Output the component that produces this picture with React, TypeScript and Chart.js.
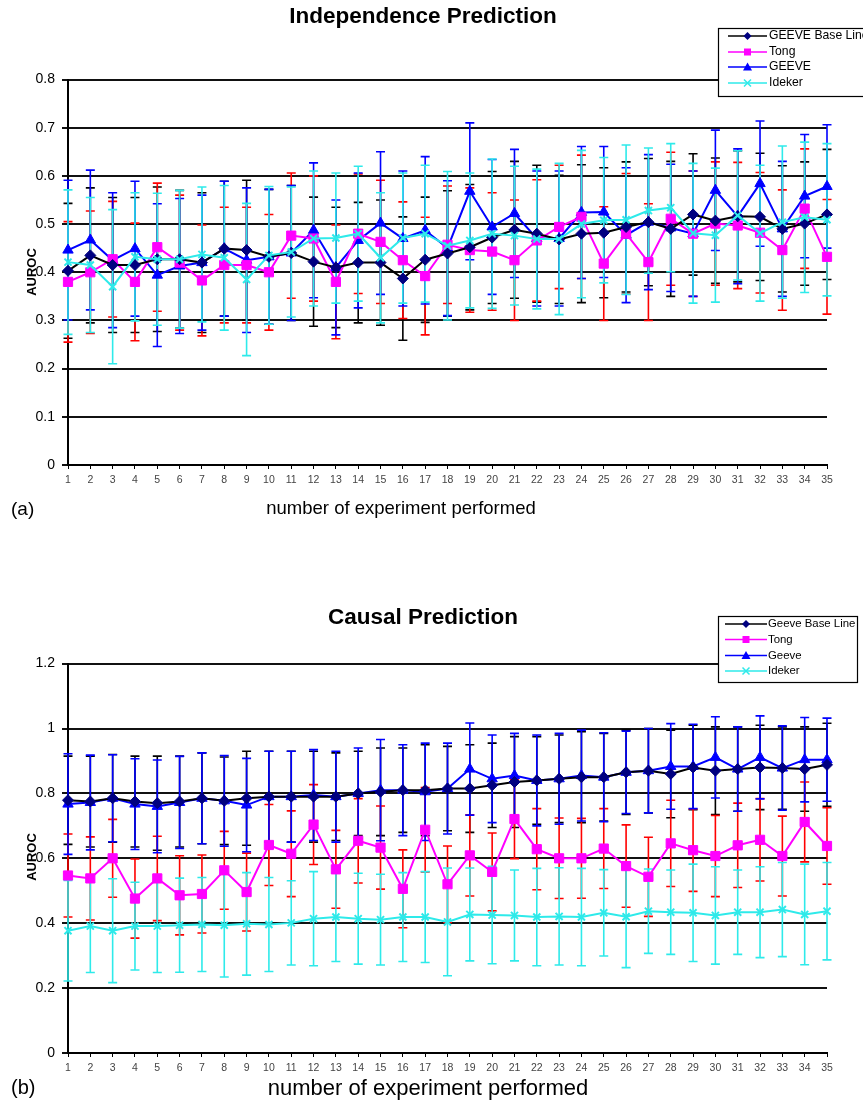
import React, { useEffect, useRef } from 'react';
import { Chart, registerables } from 'chart.js';
Chart.register(...registerables);

const categories = ['1','2','3','4','5','6','7','8','9','10','11','12','13','14','15','16','17','18','19','20','21','22','23','24','25','26','27','28','29','30','31','32','33','34','35'];

const indNames = ['GEEVE Base Line', 'Tong', 'GEEVE', 'Ideker'];
const causNames = ['Geeve Base Line', 'Tong', 'Geeve', 'Ideker'];

// Panel (a): Independence Prediction
const indBaseline = [0.403,0.435,0.415,0.415,0.427,0.427,0.42,0.449,0.446,0.432,0.44,0.422,0.41,0.42,0.42,0.387,0.426,0.439,0.452,0.472,0.488,0.48,0.468,0.48,0.482,0.494,0.504,0.49,0.52,0.507,0.516,0.515,0.49,0.501,0.52];
const indBaselineErr = [0.14,0.14,0.14,0.14,0.15,0.143,0.145,0.14,0.145,0.14,0.14,0.134,0.125,0.125,0.13,0.128,0.13,0.13,0.13,0.137,0.142,0.142,0.133,0.143,0.135,0.135,0.132,0.14,0.126,0.13,0.136,0.132,0.131,0.128,0.135];
const indTong = [0.38,0.40,0.427,0.38,0.452,0.42,0.383,0.415,0.415,0.40,0.476,0.47,0.38,0.48,0.463,0.425,0.392,0.457,0.446,0.443,0.425,0.466,0.494,0.515,0.418,0.48,0.421,0.511,0.48,0.501,0.497,0.482,0.446,0.532,0.432];
const indTongErr = [0.125,0.127,0.12,0.122,0.133,0.14,0.115,0.12,0.12,0.12,0.13,0.13,0.118,0.124,0.128,0.121,0.122,0.122,0.129,0.122,0.125,0.126,0.128,0.128,0.118,0.125,0.121,0.138,0.13,0.128,0.131,0.125,0.125,0.124,0.119];
const indGeeve = [0.446,0.467,0.425,0.449,0.394,0.413,0.42,0.449,0.425,0.432,0.44,0.487,0.41,0.466,0.502,0.47,0.487,0.45,0.568,0.494,0.522,0.47,0.47,0.524,0.525,0.477,0.504,0.492,0.48,0.57,0.516,0.584,0.49,0.558,0.578];
const indGeeveErr = [0.145,0.145,0.14,0.14,0.148,0.14,0.14,0.14,0.15,0.14,0.14,0.14,0.14,0.14,0.148,0.14,0.153,0.14,0.142,0.14,0.133,0.14,0.14,0.137,0.136,0.14,0.14,0.132,0.13,0.125,0.14,0.13,0.14,0.128,0.128];
const indIdeker = [0.421,0.415,0.37,0.432,0.427,0.427,0.437,0.43,0.385,0.435,0.442,0.47,0.471,0.48,0.43,0.471,0.48,0.455,0.466,0.48,0.476,0.469,0.469,0.5,0.508,0.509,0.528,0.534,0.481,0.477,0.518,0.481,0.504,0.514,0.509];
const indIdekerErr = [0.15,0.14,0.16,0.133,0.137,0.143,0.14,0.15,0.158,0.143,0.135,0.14,0.135,0.14,0.135,0.135,0.142,0.154,0.14,0.155,0.144,0.145,0.157,0.153,0.13,0.155,0.13,0.133,0.145,0.139,0.134,0.141,0.158,0.156,0.158];

// Panel (b): Causal Prediction
const causBaseline = [0.779,0.775,0.785,0.775,0.77,0.775,0.785,0.777,0.785,0.79,0.79,0.79,0.79,0.8,0.805,0.81,0.81,0.815,0.815,0.825,0.835,0.84,0.845,0.85,0.85,0.865,0.87,0.86,0.88,0.87,0.875,0.88,0.878,0.875,0.888];
const causBaselineErr = [0.136,0.14,0.135,0.14,0.145,0.14,0.14,0.135,0.145,0.14,0.14,0.14,0.135,0.13,0.135,0.13,0.14,0.13,0.135,0.13,0.14,0.135,0.135,0.14,0.135,0.13,0.13,0.135,0.13,0.135,0.13,0.13,0.127,0.13,0.128];
const causTong = [0.547,0.538,0.6,0.476,0.538,0.486,0.49,0.563,0.496,0.641,0.614,0.704,0.566,0.654,0.633,0.506,0.688,0.52,0.609,0.558,0.721,0.628,0.6,0.6,0.63,0.576,0.543,0.646,0.625,0.607,0.64,0.657,0.607,0.712,0.638];
const causTongErr = [0.128,0.128,0.12,0.122,0.13,0.122,0.12,0.12,0.12,0.125,0.132,0.123,0.12,0.13,0.128,0.12,0.13,0.118,0.125,0.12,0.122,0.125,0.124,0.123,0.123,0.127,0.122,0.133,0.127,0.125,0.13,0.127,0.123,0.123,0.118];
const causGeeve = [0.767,0.772,0.785,0.767,0.76,0.772,0.785,0.777,0.764,0.79,0.79,0.795,0.79,0.8,0.81,0.81,0.805,0.815,0.875,0.845,0.855,0.84,0.845,0.855,0.85,0.865,0.87,0.883,0.883,0.911,0.875,0.911,0.878,0.904,0.904];
const causGeeveErr = [0.155,0.146,0.134,0.14,0.143,0.142,0.14,0.14,0.144,0.14,0.14,0.14,0.14,0.14,0.156,0.14,0.15,0.14,0.142,0.135,0.13,0.14,0.14,0.14,0.137,0.127,0.13,0.132,0.13,0.125,0.13,0.128,0.13,0.13,0.128];
const causIdeker = [0.377,0.391,0.377,0.391,0.391,0.394,0.396,0.394,0.398,0.396,0.401,0.414,0.419,0.414,0.411,0.419,0.419,0.404,0.427,0.425,0.424,0.419,0.421,0.419,0.432,0.42,0.437,0.434,0.432,0.424,0.434,0.434,0.442,0.427,0.437];
const causIdekerErr = [0.155,0.143,0.16,0.135,0.143,0.145,0.145,0.16,0.158,0.145,0.13,0.145,0.137,0.14,0.14,0.137,0.14,0.166,0.143,0.15,0.14,0.15,0.15,0.15,0.133,0.157,0.13,0.13,0.15,0.15,0.13,0.14,0.145,0.155,0.15];

const FONT = "Arial, 'Liberation Sans', Helvetica, sans-serif";
const LINE_COLORS = ['#000000', '#FF00FF', '#0000FF', '#2EEAEA'];
const MARKER_COLORS = ['#000080', '#FF00FF', '#0000FF', '#2EEAEA'];
const ERR_COLORS = ['#000000', '#FF0000', '#0000FF', '#2EEAEA'];
const POINT_STYLES = ['rectRot', 'rect', 'triangle', 'crossRot'];
const POINT_RADII = [5.5, 6.5, 6, 5];
// lower = drawn on top
const DRAW_ORDER = [1, 2, 3, 0];

type Spec = {
  title: string;
  names: string[];
  means: number[][];
  errs: number[][];
  yMax: number;
  yStep: number;
  height: number;
  areaTop: number;
  areaBottom: number;
  titleX: number;
  titleY: number;
  titleSize: number;
  xTitleX: number;
  xTitleY: number;
  xTitleSize: number;
  panelLabel: string;
  panelLabelY: number;
  panelLabelSize: number;
  aurocY: number;
  legend: { x: number; y: number; w: number; h: number; rows: number[]; lineX0: number; lineX1: number; textX: number; size: number };
};

const panelA: Spec = {
  title: 'Independence Prediction',
  names: indNames,
  means: [indBaseline, indTong, indGeeve, indIdeker],
  errs: [indBaselineErr, indTongErr, indGeeveErr, indIdekerErr],
  yMax: 0.8,
  yStep: 0.1,
  height: 551,
  areaTop: 79.5,
  areaBottom: 465,
  titleX: 423,
  titleY: 17,
  titleSize: 22.5,
  xTitleX: 401,
  xTitleY: 509,
  xTitleSize: 18.5,
  panelLabel: '(a)',
  panelLabelY: 510,
  panelLabelSize: 19,
  aurocY: 272,
  legend: { x: 718, y: 28, w: 152, h: 68, rows: [36, 52, 67, 83], lineX0: 728, lineX1: 767, textX: 769, size: 12.2 },
};

const panelB: Spec = {
  title: 'Causal Prediction',
  names: causNames,
  means: [causBaseline, causTong, causGeeve, causIdeker],
  errs: [causBaselineErr, causTongErr, causGeeveErr, causIdekerErr],
  yMax: 1.2,
  yStep: 0.2,
  height: 551,
  areaTop: 112.6,
  areaBottom: 502,
  titleX: 423,
  titleY: 67,
  titleSize: 22.5,
  xTitleX: 428,
  xTitleY: 538,
  xTitleSize: 22,
  panelLabel: '(b)',
  panelLabelY: 537,
  panelLabelSize: 20,
  aurocY: 306,
  legend: { x: 718, y: 65, w: 139, h: 66, rows: [73, 88.5, 104.5, 120], lineX0: 725, lineX1: 767, textX: 768, size: 11.4 },
};

function drawMarker(ctx: CanvasRenderingContext2D, s: number, x: number, y: number) {
  ctx.save();
  ctx.fillStyle = MARKER_COLORS[s];
  ctx.strokeStyle = MARKER_COLORS[s];
  ctx.lineWidth = 1.5;
  ctx.beginPath();
  if (s === 0) {
    ctx.moveTo(x, y - 4); ctx.lineTo(x + 4, y); ctx.lineTo(x, y + 4); ctx.lineTo(x - 4, y); ctx.closePath(); ctx.fill();
  } else if (s === 1) {
    ctx.rect(x - 3.5, y - 3.5, 7, 7); ctx.fill();
  } else if (s === 2) {
    ctx.moveTo(x, y - 4.5); ctx.lineTo(x + 4.5, y + 3.5); ctx.lineTo(x - 4.5, y + 3.5); ctx.closePath(); ctx.fill();
  } else {
    ctx.moveTo(x - 3.5, y - 3.5); ctx.lineTo(x + 3.5, y + 3.5); ctx.moveTo(x + 3.5, y - 3.5); ctx.lineTo(x - 3.5, y + 3.5); ctx.stroke();
  }
  ctx.restore();
}

function errorPlugin(spec: Spec) {
  return {
    id: 'errorBars',
    beforeDatasetsDraw(chart: any) {
      const ctx: CanvasRenderingContext2D = chart.ctx;
      const y = chart.scales.y;
      ctx.save();
      spec.means.forEach((m, s) => {
        const meta = chart.getDatasetMeta(s);
        ctx.strokeStyle = ERR_COLORS[s];
        ctx.lineWidth = 1.6;
        m.forEach((v, j) => {
          const x = meta.data[j].x;
          const t = y.getPixelForValue(v + spec.errs[s][j]);
          const b = y.getPixelForValue(v - spec.errs[s][j]);
          ctx.beginPath();
          ctx.moveTo(x, t); ctx.lineTo(x, b);
          ctx.moveTo(x - 4.5, t); ctx.lineTo(x + 4.5, t);
          ctx.moveTo(x - 4.5, b); ctx.lineTo(x + 4.5, b);
          ctx.stroke();
        });
      });
      ctx.restore();
    },
  };
}

function decorPlugin(spec: Spec) {
  return {
    id: 'decor',
    afterDraw(chart: any) {
      const ctx: CanvasRenderingContext2D = chart.ctx;
      ctx.save();
      ctx.fillStyle = '#000';
      ctx.textBaseline = 'middle';
      ctx.font = `bold ${spec.titleSize}px ${FONT}`;
      ctx.textAlign = 'center';
      ctx.fillText(spec.title, spec.titleX, spec.titleY);
      ctx.font = `${spec.xTitleSize}px ${FONT}`;
      ctx.fillText('number of experiment performed', spec.xTitleX, spec.xTitleY);
      ctx.textAlign = 'left';
      ctx.font = `${spec.panelLabelSize}px ${FONT}`;
      ctx.fillText(spec.panelLabel, 11, spec.panelLabelY);
      ctx.save();
      ctx.translate(32, spec.aurocY);
      ctx.rotate(-Math.PI / 2);
      ctx.textAlign = 'center';
      ctx.font = `bold 13px ${FONT}`;
      ctx.fillText('AUROC', 0, 0);
      ctx.restore();
      const L = spec.legend;
      ctx.fillStyle = '#fff';
      ctx.fillRect(L.x, L.y, L.w, L.h);
      ctx.strokeStyle = '#000';
      ctx.lineWidth = 1.2;
      ctx.strokeRect(L.x + 0.5, L.y + 0.5, L.w, L.h);
      L.rows.forEach((ry, s) => {
        ctx.strokeStyle = LINE_COLORS[s];
        ctx.lineWidth = 1.6;
        ctx.beginPath();
        ctx.moveTo(L.lineX0, ry); ctx.lineTo(L.lineX1, ry);
        ctx.stroke();
        drawMarker(ctx, s, (L.lineX0 + L.lineX1) / 2, ry);
        ctx.fillStyle = '#000';
        ctx.font = `${L.size}px ${FONT}`;
        ctx.textAlign = 'left';
        ctx.fillText(spec.names[s], L.textX, ry);
      });
      ctx.restore();
    },
  };
}

function buildChart(canvas: HTMLCanvasElement, spec: Spec) {
  const datasets = spec.means.map((m, s) => ({
    label: spec.names[s],
    data: m,
    borderColor: LINE_COLORS[s],
    backgroundColor: MARKER_COLORS[s],
    borderWidth: 2,
    pointStyle: POINT_STYLES[s],
    pointRadius: POINT_RADII[s],
    pointBackgroundColor: MARKER_COLORS[s],
    pointBorderColor: MARKER_COLORS[s],
    pointBorderWidth: s === 3 ? 2 : 1,
    tension: 0,
    fill: false,
    order: DRAW_ORDER[s],
  }));
  const xAxisH = 30;
  return new Chart(canvas, {
    type: 'line',
    data: { labels: categories, datasets },
    options: {
      responsive: false,
      animation: false,
      devicePixelRatio: 1,
      events: [],
      layout: { padding: { left: 0, right: 36, top: spec.areaTop, bottom: spec.height - spec.areaBottom - xAxisH } },
      plugins: { legend: { display: false }, title: { display: false }, tooltip: { enabled: false } },
      scales: {
        x: {
          type: 'category',
          offset: false,
          grid: { display: true, drawOnChartArea: false, drawTicks: true, tickLength: 4, color: '#000', lineWidth: 1 },
          border: { display: true, color: '#000', width: 2 },
          ticks: { autoSkip: false, maxRotation: 0, minRotation: 0, padding: 5, color: '#444', font: { family: FONT, size: 10.5 } },
          afterFit: (s: any) => { s.height = xAxisH; },
        },
        y: {
          min: 0,
          max: spec.yMax,
          ticks: {
            stepSize: spec.yStep,
            padding: 7,
            color: '#000',
            font: { family: FONT, size: 14 },
            callback: (v: any) => String(Math.round(Number(v) * 10) / 10),
          },
          grid: { color: '#111', lineWidth: 2, drawTicks: true, tickLength: 6 },
          border: { display: true, color: '#000', width: 2 },
          afterFit: (s: any) => { s.width = 68; },
        },
      },
    } as any,
    plugins: [errorPlugin(spec), decorPlugin(spec)],
  });
}

function Panel({ spec, top }: { spec: Spec; top: number }) {
  const ref = useRef<HTMLCanvasElement | null>(null);
  useEffect(() => {
    if (!ref.current) return;
    const chart = buildChart(ref.current, spec);
    return () => chart.destroy();
  }, [spec]);
  return (
    <canvas
      ref={ref}
      width={863}
      height={spec.height}
      style={{ position: 'absolute', left: 0, top, width: 863, height: spec.height, display: 'block' }}
    />
  );
}

export default function App() {
  return (
    <div style={{ position: 'absolute', left: 0, top: 0, width: 863, height: 1102, background: '#fff', overflow: 'hidden' }}>
      <Panel spec={panelA} top={0} />
      <Panel spec={panelB} top={551} />
    </div>
  );
}
